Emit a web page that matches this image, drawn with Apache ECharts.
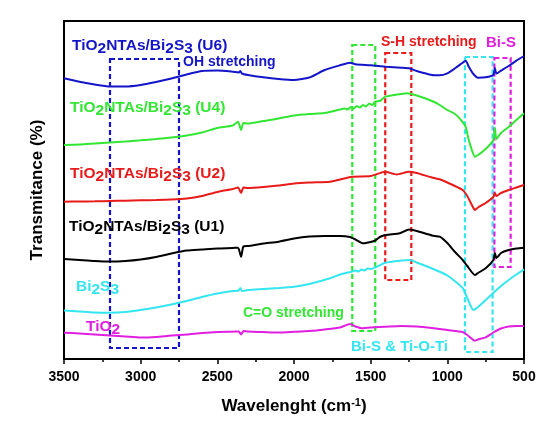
<!DOCTYPE html>
<html>
<head>
<meta charset="utf-8">
<script src="https://cdn.jsdelivr.net/npm/echarts@6/dist/echarts.min.js"></script>
<style>
html, body { margin: 0; padding: 0; background: #fff; }
#chart { width: 560px; height: 437px; }
</style>
</head>
<body>
<div id="chart"></div>
<script>
// [wavenumber (cm-1), offset transmittance (a.u.)]
const u6 = [[3500, 280.7], [3400, 277.3], [3300, 274.5], [3200, 272.5], [3100, 272.5], [3000, 274], [2900, 277],
  [2800, 280.5], [2700, 284.5], [2600, 288], [2500, 288.5], [2400, 287.3], [2360, 286.5], [2350, 288], [2340, 285.5],
  [2300, 284], [2200, 281.7], [2100, 280], [2000, 279], [1900, 281.5], [1800, 289], [1700, 293.7], [1635, 296.3],
  [1600, 294.7], [1500, 293.7], [1400, 292.3], [1300, 291.3], [1250, 290.7], [1200, 288], [1100, 284], [1050, 283.7],
  [1000, 285.7], [950, 290.7], [900, 296.3], [880, 298.3], [860, 292.3], [830, 285], [800, 281.3], [750, 281.7],
  [700, 284], [690, 291], [680, 285.5], [650, 288.3], [600, 293], [550, 298.3], [500, 303]]
const u4 = [[3500, 214], [3400, 214.5], [3300, 215.5], [3200, 216.5], [3100, 217.5], [3000, 218.7], [2900, 220],
  [2800, 221.5], [2700, 223.5], [2600, 226.5], [2500, 231], [2400, 233.5], [2365, 237.3], [2345, 229], [2330, 236],
  [2300, 235.5], [2200, 238], [2100, 240.5], [2000, 243.5], [1900, 245], [1800, 246], [1700, 249.5], [1670, 250.5],
  [1650, 249.5], [1630, 252], [1610, 250.5], [1590, 253], [1570, 251.5], [1550, 254], [1530, 252.5], [1510, 255.5],
  [1490, 254], [1470, 257.5], [1440, 258], [1405, 262.3], [1350, 264], [1300, 265], [1265, 265.7], [1200, 263.5],
  [1100, 258], [1050, 254], [1000, 249], [950, 245], [900, 237], [880, 232], [860, 219], [840, 209], [820, 202.3],
  [800, 204], [750, 210], [700, 219], [690, 231], [680, 220], [650, 226], [600, 232], [550, 239], [500, 245.7]]
const u2 = [[3500, 157.3], [3400, 157.5], [3300, 157.7], [3200, 158], [3100, 158.3], [3000, 158.7], [2900, 159],
  [2800, 159.5], [2700, 160.5], [2600, 163], [2500, 167], [2400, 170], [2365, 171.5], [2345, 166], [2330, 171.5],
  [2300, 171], [2200, 172], [2100, 173.5], [2000, 175.5], [1900, 176.5], [1765, 177.3], [1700, 179.5], [1620, 182.3],
  [1500, 183], [1405, 187.3], [1330, 184.5], [1250, 187.3], [1200, 186], [1100, 181.5], [1050, 179.7], [1000, 176.5],
  [900, 169], [870, 163], [840, 154], [820, 149], [800, 151.5], [750, 156], [700, 162], [690, 166], [680, 163],
  [650, 166], [600, 169], [550, 171.5], [500, 174]]
const u1 = [[3500, 100], [3400, 99], [3300, 98], [3200, 97.5], [3100, 98], [3000, 99.5], [2900, 102], [2800, 105.5],
  [2700, 108.5], [2600, 109.5], [2500, 110.5], [2400, 111], [2365, 111.3], [2345, 102.3], [2330, 112.5], [2300, 113],
  [2200, 115.5], [2100, 117.3], [2000, 120.5], [1900, 122.5], [1800, 123], [1700, 123], [1635, 122],
  [1600, 119.5], [1550, 115.7], [1500, 117], [1470, 118.5], [1440, 122], [1400, 124], [1310, 125.7], [1250, 129.5],
  [1200, 128], [1100, 123.5], [1050, 122.3], [1000, 116], [950, 107], [900, 99], [870, 93], [820, 84], [800, 86],
  [750, 90.7], [700, 99], [690, 106], [680, 101], [650, 106], [600, 109], [550, 110.5], [500, 111.3]]
const bi2s3 = [[3500, 48.5], [3400, 47.5], [3300, 46.5], [3200, 46.3], [3100, 47], [3000, 49], [2900, 51.5],
  [2800, 54.5], [2700, 58], [2600, 62], [2500, 65.5], [2400, 68], [2360, 68.5], [2350, 71], [2340, 68], [2300, 69],
  [2200, 70], [2100, 71], [2000, 72.3], [1900, 75], [1765, 80.7], [1700, 84.5], [1620, 87.5], [1600, 88.5],
  [1580, 87.5], [1560, 89.5], [1540, 88.5], [1520, 90.5], [1500, 90], [1405, 96.3], [1300, 98.5], [1245, 99],
  [1200, 96.5], [1100, 90.5], [1000, 83.5], [900, 71], [870, 61], [830, 49], [800, 52], [750, 59], [700, 66],
  [650, 73], [600, 79], [550, 84.5], [500, 89.7]]
const tio2 = [[3500, 26.3], [3400, 25.5], [3300, 24.5], [3200, 23.5], [3100, 22.5], [3000, 21.5], [2900, 22],
  [2800, 23.5], [2700, 24.5], [2600, 26], [2500, 27], [2400, 27.3], [2360, 27.5], [2345, 24.5], [2330, 28],
  [2300, 27.5], [2200, 27], [2100, 26.5], [2000, 27.2], [1900, 28], [1800, 29.5], [1700, 31.5], [1635, 35],
  [1600, 32.5], [1550, 30.7], [1500, 31.5], [1400, 32.3], [1300, 33], [1200, 32.5], [1100, 31], [1000, 29],
  [900, 27], [870, 24], [820, 18.3], [800, 19.5], [750, 21.7], [700, 26.5], [650, 30.5], [600, 32.5], [550, 33],
  [500, 33]]

// dashed band boxes: [from cm-1, to cm-1, bottom, top]
const boxOH = [3200, 2750, 11, 300]
const boxCO = [1620, 1470, 28, 314]
const boxSH = [1405, 1235, 79, 306]
const boxBiSTiO = [885, 705, 7, 302]
const boxBiS = [693, 587, 92, 301]

const FONT = 'Arial, "Liberation Sans", sans-serif'

const chart = echarts.init(document.getElementById('chart'))

function box(b, color) {
  return {
    silent: true,
    label: { show: false },
    itemStyle: { color: 'rgba(0,0,0,0)', borderColor: color, borderWidth: 2.2, borderType: [5, 3] },
    data: [[{ coord: [b[0], b[3]] }, { coord: [b[1], b[2]] }]]
  }
}

function line(name, data, color, b) {
  const s = {
    name: name,
    type: 'line',
    data: data,
    showSymbol: false,
    smooth: 0.2,
    lineStyle: { color: color, width: 2 },
    itemStyle: { color: color }
  }
  if (b) s.markArea = box(b, color)
  return s
}

// sample label with subscripts
function label(text, color, left, top, size) {
  const base = { color: color, fontSize: size, fontWeight: 'bold', fontFamily: FONT }
  return {
    text: text,
    left: left,
    top: top,
    padding: 0,
    textStyle: Object.assign({}, base, {
      rich: {
        n: Object.assign({}, base),
        s: Object.assign({}, base, { padding: [7, 0, 0, 0] })
      }
    })
  }
}

const BLUE = '#1414C8'
const GREEN = '#33E633'
const RED = '#E81A1A'
const CYAN = '#33E6F0'
const MAGENTA = '#E01FE0'

chart.setOption({
  animation: false,
  title: [
    label('{n|TiO}{s|2}{n|NTAs/Bi}{s|2}{n|S}{s|3}{n| (U6)}', BLUE, 72, 34, 15.5),
    label('{n|TiO}{s|2}{n|NTAs/Bi}{s|2}{n|S}{s|3}{n| (U4)}', GREEN, 70, 96, 15.5),
    label('{n|TiO}{s|2}{n|NTAs/Bi}{s|2}{n|S}{s|3}{n| (U2)}', RED, 70, 162, 15.5),
    label('{n|TiO}{s|2}{n|NTAs/Bi}{s|2}{n|S}{s|3}{n| (U1)}', '#000', 69, 215, 15.5),
    label('{n|Bi}{s|2}{n|S}{s|3}', CYAN, 76, 275, 15.5),
    label('{n|TiO}{s|2}', MAGENTA, 86, 315, 15.5),
    label('{n|OH stretching}', BLUE, 183, 55, 14),
    label('{n|C=O stretching}', GREEN, 243, 306, 14),
    label('{n|S-H stretching}', RED, 381, 35, 14),
    label('{n|Bi-S}', MAGENTA, 486, 35, 15),
    label('{n|Bi-S & Ti-O-Ti}', CYAN, 351, 339, 15)
  ],
  grid: {
    left: 64,
    right: 36,
    top: 21,
    bottom: 78,
    show: true,
    borderColor: '#000',
    borderWidth: 2,
    outerBoundsMode: 'none'
  },
  xAxis: {
    type: 'value',
    min: 500,
    max: 3500,
    interval: 500,
    inverse: true,
    name: 'Wavelenght (cm{sup|-1})',
    nameLocation: 'middle',
    nameGap: 38,
    nameTextStyle: {
      color: '#000', fontSize: 17, fontWeight: 'bold', fontFamily: FONT,
      rich: { sup: { color: '#000', fontSize: 11, fontWeight: 'bold', fontFamily: FONT, padding: [0, 0, 8, 0] } }
    },
    axisLine: { lineStyle: { color: '#000', width: 2 } },
    axisTick: { length: 5, lineStyle: { color: '#000', width: 1.5 } },
    minorTick: { show: true, splitNumber: 2, length: 3, lineStyle: { color: '#000', width: 1.5 } },
    splitLine: { show: false },
    axisLabel: {
      color: '#000', fontSize: 14, fontWeight: 'bold', fontFamily: FONT, margin: 11,
      formatter: v => String(v)
    }
  },
  yAxis: {
    type: 'value',
    min: 0,
    max: 338,
    name: 'Transmitance (%)',
    nameLocation: 'middle',
    nameGap: 18,
    nameTextStyle: { color: '#000', fontSize: 17, fontWeight: 'bold', fontFamily: FONT },
    axisLine: { show: true, lineStyle: { color: '#000', width: 2 } },
    axisTick: { show: false },
    axisLabel: { show: false },
    splitLine: { show: false }
  },
  series: [
    line('TiO2NTAs/Bi2S3 (U6)', u6, BLUE, boxOH),
    line('TiO2NTAs/Bi2S3 (U4)', u4, GREEN, boxCO),
    line('TiO2NTAs/Bi2S3 (U2)', u2, RED, boxSH),
    line('TiO2NTAs/Bi2S3 (U1)', u1, '#000', null),
    line('Bi2S3', bi2s3, CYAN, boxBiSTiO),
    line('TiO2', tio2, MAGENTA, boxBiS)
  ]
})
</script>
</body>
</html>
